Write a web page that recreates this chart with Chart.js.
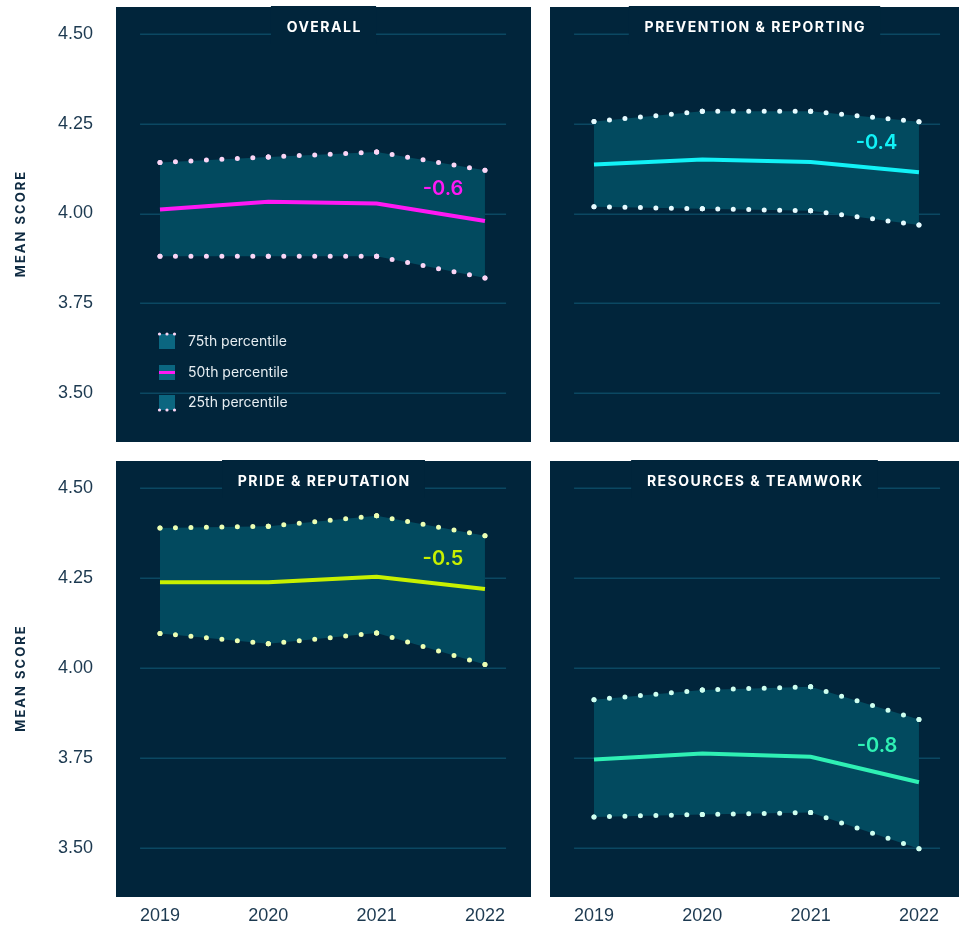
<!DOCTYPE html>
<html>
<head>
<meta charset="utf-8">
<script src="https://cdn.jsdelivr.net/npm/chart.js@4.4.1/dist/chart.umd.min.js"></script>
<style>
  html, body { margin: 0; padding: 0; background: #ffffff; overflow: hidden; width: 959px; height: 926px; }
  canvas { position: absolute; }
</style>
</head>
<body>
<canvas id="c0" width="531" height="442" style="left:0;top:0"></canvas>
<canvas id="c1" width="415" height="442" style="left:550px;top:0"></canvas>
<canvas id="c2" width="531" height="467" style="left:0;top:459px"></canvas>
<canvas id="c3" width="415" height="467" style="left:550px;top:459px"></canvas>
<script>
// Survey years and y-axis ticks
const years = [2019, 2020, 2021, 2022];
const yTicks = [3.5, 3.75, 4.0, 4.25, 4.5];

const panelTitles = ['OVERALL', 'PREVENTION & REPORTING', 'PRIDE & REPUTATION', 'RESOURCES & TEAMWORK'];

// Mean score percentiles per panel
const overallP75 = [4.142, 4.157, 4.171, 4.120];
const overallP50 = [4.011, 4.033, 4.028, 3.979];
const overallP25 = [3.881, 3.881, 3.881, 3.821];

const preventionP75 = [4.256, 4.284, 4.284, 4.255];
const preventionP50 = [4.136, 4.150, 4.143, 4.115];
const preventionP25 = [4.019, 4.013, 4.008, 3.968];

const prideP75 = [4.388, 4.393, 4.422, 4.367];
const prideP50 = [4.238, 4.238, 4.253, 4.219];
const prideP25 = [4.096, 4.067, 4.097, 4.010];

const resourcesP75 = [3.912, 3.939, 3.948, 3.857];
const resourcesP50 = [3.746, 3.763, 3.754, 3.683];
const resourcesP25 = [3.587, 3.594, 3.599, 3.499];

// Change annotations and where they sit (score units)
const changeLabels = ['-0.6', '-0.4', '-0.5', '-0.8'];
const changeLabelY = [4.067, 4.197, 4.303, 3.783];

const legendLabels = ['75th percentile', '50th percentile', '25th percentile'];

const medianColors = ['#ff18f4', '#12f2f7', '#c8f000', '#2ff0b4'];
const dotColors = ['#fbd6f6', '#e6fbff', '#ecffb4', '#cffff0'];

const PANEL_BG = '#01253b';
const BAND = '#024a5f';
const GRID = '#0b4862';
const TICK_COLOR = '#1c3950';

const panels = [
  { p75: overallP75, p50: overallP50, p25: overallP25 },
  { p75: preventionP75, p50: preventionP50, p25: preventionP25 },
  { p75: prideP75, p50: prideP50, p25: prideP25 },
  { p75: resourcesP75, p50: resourcesP50, p25: resourcesP25 }
];

const X_MIN = 2018.594, X_MAX = 2022.425;
const Y_MIN = 3.365, Y_MAX = 4.574;
const GRID_FROM = 2018.816, GRID_TO = 2022.195;
const DOT_GAP = 15.4;

const toPoints = arr => arr.map((v, i) => ({ x: years[i], y: v }));

// keep the plot area fixed: axes reserve no extra room for label overhang
function fixBox(scale, size) {
  scale.paddingLeft = 0;
  scale.paddingRight = 0;
  scale.paddingTop = 0;
  scale.paddingBottom = 0;
  if (scale.isHorizontal()) scale.height = size; else scale.width = size;
}

// each segment gets its own evenly spaced dots, starting and ending on a data point
function segmentDots(ctx) {
  const len = Math.hypot(ctx.p1.x - ctx.p0.x, ctx.p1.y - ctx.p0.y);
  const n = Math.max(1, Math.round(len / DOT_GAP));
  return [0, len / n - 0.001];
}

function dottedLine(values, color) {
  return {
    data: toPoints(values),
    borderColor: color,
    borderWidth: 5,
    borderDash: [0, DOT_GAP],
    borderCapStyle: 'round',
    segment: { borderDash: segmentDots },
    pointRadius: 2.5,
    pointBorderWidth: 0,
    pointBackgroundColor: color,
    tension: 0,
    fill: false
  };
}

// invisible edge of the shaded 25th-75th band
function bandEdge(values, fill) {
  return {
    data: toPoints(values),
    borderWidth: 0,
    borderColor: 'rgba(0,0,0,0)',
    backgroundColor: BAND,
    pointRadius: 0,
    tension: 0,
    fill: fill
  };
}

const decor = {
  id: 'panelDecor',
  beforeDraw(chart) {
    const { ctx, chartArea: a, scales: { x, y } } = chart;
    ctx.save();
    ctx.fillStyle = PANEL_BG;
    ctx.fillRect(a.left, a.top, a.right - a.left, a.bottom - a.top);
    ctx.strokeStyle = GRID;
    ctx.lineWidth = 1.5;
    const x0 = x.getPixelForValue(GRID_FROM), x1 = x.getPixelForValue(GRID_TO);
    yTicks.forEach(t => {
      const py = Math.round(y.getPixelForValue(t)) + 0.25;
      ctx.beginPath();
      ctx.moveTo(x0, py);
      ctx.lineTo(x1, py);
      ctx.stroke();
    });
    ctx.restore();
  },
  afterDatasetsDraw(chart) {
    const { ctx, chartArea: a, scales: { x, y } } = chart;
    const idx = chart.options.plugins.panelDecor.index;
    ctx.save();
    // panel title on a backing box that interrupts the top grid line
    ctx.font = '700 14px Inter';
    ctx.letterSpacing = '1.5px';
    const title = panelTitles[idx];
    const tw = ctx.measureText(title).width;
    const cx = (a.left + a.right) / 2 - (idx % 2 ? 3 : 0);
    ctx.fillStyle = PANEL_BG;
    ctx.fillRect(cx - tw / 2 - 15, a.top - 1, tw + 30, 38);
    ctx.fillStyle = '#ffffff';
    ctx.textAlign = 'center';
    ctx.textBaseline = 'middle';
    ctx.fillText(title, cx + 0.75, a.top + 20.5);

    // change annotation
    ctx.letterSpacing = '0px';
    ctx.font = '600 20px Inter';
    ctx.fillStyle = medianColors[idx];
    ctx.textAlign = 'right';
    ctx.fillText(changeLabels[idx], x.getPixelForValue(2021.8), y.getPixelForValue(changeLabelY[idx]));

    // vertical axis title on the left-hand panels
    if (idx % 2 === 0) {
      ctx.save();
      ctx.translate(21, (a.top + a.bottom) / 2);
      ctx.rotate(-Math.PI / 2);
      ctx.font = '700 13px Inter';
      ctx.letterSpacing = '2px';
      ctx.fillStyle = '#0f2b42';
      ctx.textAlign = 'center';
      ctx.fillText('MEAN SCORE', 1, 0);
      ctx.restore();
    }

    // legend in the first panel
    if (idx === 0) {
      const bx = a.left + 43, rows = [a.top + 334.5, a.top + 365.5, a.top + 395.5];
      ctx.font = '400 14px Inter';
      ctx.letterSpacing = '0px';
      ctx.textAlign = 'left';
      ctx.textBaseline = 'middle';
      rows.forEach((ry, k) => {
        ctx.fillStyle = '#0b6680';
        ctx.fillRect(bx, ry - 7.5, 16, 15);
        if (k === 1) {
          ctx.fillStyle = medianColors[0];
          ctx.fillRect(bx, ry - 1.5, 16, 3);
        } else {
          const dy = k === 0 ? ry - 7.5 : ry + 7.5;
          ctx.fillStyle = dotColors[0];
          [0.5, 8, 15.5].forEach(dx => {
            ctx.beginPath();
            ctx.arc(bx + dx, dy, 1.6, 0, Math.PI * 2);
            ctx.fill();
          });
        }
        ctx.fillStyle = '#e6edf1';
        ctx.fillText(legendLabels[k], a.left + 72, ry);
      });
    }
    ctx.restore();
  }
};

function makeChart(idx) {
  const p = panels[idx];
  const left = idx % 2 === 0;
  const bottom = idx >= 2;
  return new Chart(document.getElementById('c' + idx), {
    type: 'line',
    data: {
      datasets: [
        {
          data: toPoints(p.p50),
          borderColor: medianColors[idx],
          borderWidth: 4,
          pointRadius: 0,
          tension: 0,
          fill: false
        },
        dottedLine(p.p75, dotColors[idx]),
        dottedLine(p.p25, dotColors[idx]),
        bandEdge(p.p75, { target: 4 }),
        bandEdge(p.p25, false)
      ]
    },
    options: {
      responsive: false,
      animation: false,
      events: [],
      layout: { autoPadding: false, padding: { top: bottom ? 2 : 7, left: 0, right: 0, bottom: 0 } },
      plugins: {
        legend: { display: false },
        tooltip: { enabled: false },
        filler: { drawTime: 'beforeDatasetsDraw' },
        panelDecor: { index: idx }
      },
      scales: {
        x: {
          type: 'linear',
          min: X_MIN,
          max: X_MAX,
          display: bottom,
          border: { display: false },
          grid: { display: false, drawTicks: false },
          afterBuildTicks: s => { s.ticks = years.map(v => ({ value: v })); },
          afterFit: s => fixBox(s, bottom ? 29 : 0),
          ticks: {
            autoSkip: false,
            maxRotation: 0,
            padding: 8,
            color: TICK_COLOR,
            font: { family: 'Liberation Sans', size: 18 },
            callback: v => String(v)
          }
        },
        y: {
          type: 'linear',
          min: Y_MIN,
          max: Y_MAX,
          display: left,
          border: { display: false },
          grid: { display: false, drawTicks: false },
          afterBuildTicks: s => { s.ticks = yTicks.map(v => ({ value: v })); },
          afterFit: s => fixBox(s, left ? 116 : 0),
          ticks: {
            padding: 23,
            color: TICK_COLOR,
            font: { family: 'Liberation Sans', size: 18 },
            callback: v => Number(v).toFixed(2)
          }
        }
      }
    },
    plugins: [decor]
  });
}

[0, 1, 2, 3].forEach(makeChart);
</script>
</body>
</html>
